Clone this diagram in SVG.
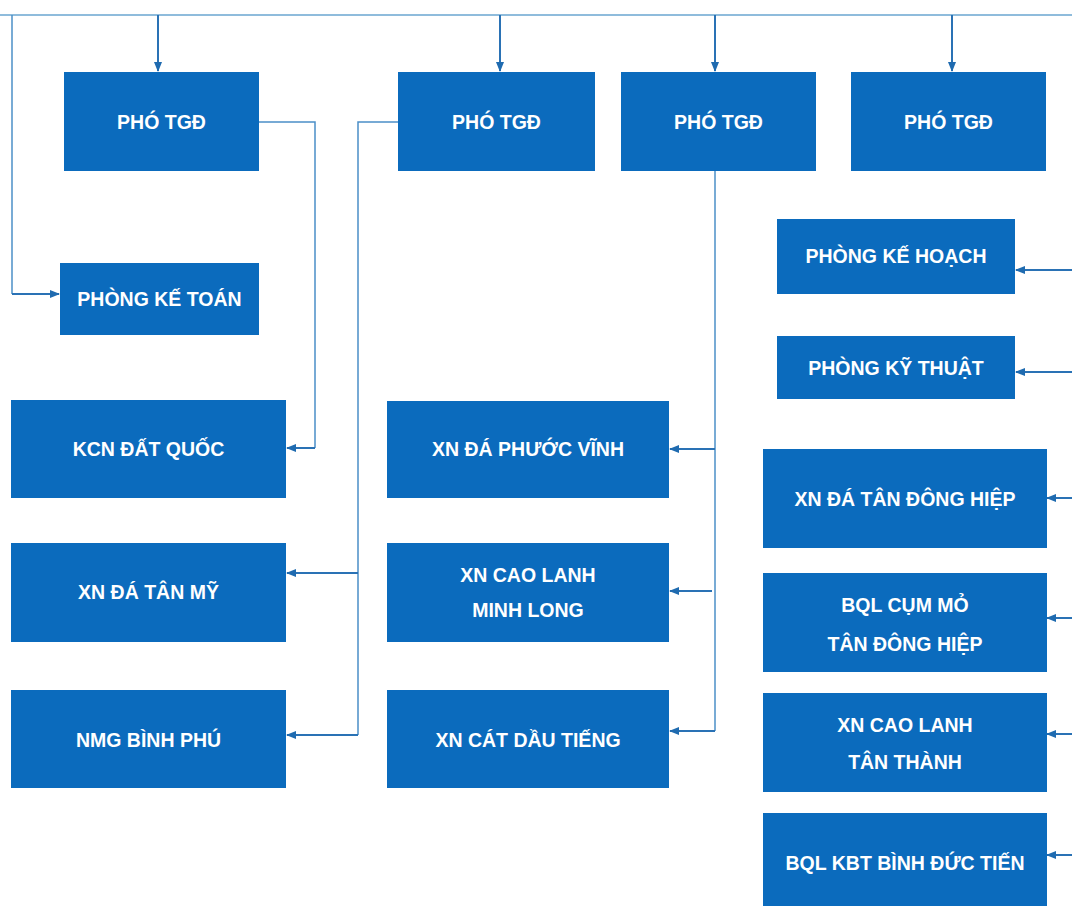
<svg xmlns="http://www.w3.org/2000/svg" width="1072" height="906" viewBox="0 0 1072 906">
<style>
.box{fill:#0b6bbd}
.t{font-family:"Liberation Sans",Arial,sans-serif;font-weight:bold;font-size:19.5px;fill:#ffffff;text-anchor:middle}
.ln{fill:none;stroke:#4b8fc7;stroke-width:1.5}
.top{fill:none;stroke:#8fbcdc;stroke-width:2}
.ar{fill:none;stroke:#2a72b5;stroke-width:2;marker-end:url(#ah)}
</style>
<defs>
<marker id="ah" viewBox="0 0 10 10" refX="9" refY="5" markerWidth="10" markerHeight="10" markerUnits="userSpaceOnUse" orient="auto">
<path d="M0,1 L10,5 L0,9 Z" fill="#1f6bb0"/>
</marker>
</defs>
<rect width="1072" height="906" fill="#ffffff"/>
<g id="connectors">
<path class="top" d="M0,15 H1072"/>
<path class="ln" d="M12,15 V294"/>
<path class="ar" d="M12,294 H59"/>
<path class="ar" d="M158,15 V71"/>
<path class="ar" d="M500,15 V71"/>
<path class="ar" d="M715,15 V71"/>
<path class="ar" d="M952,15 V71"/>
<path class="ln" d="M259,122 H315 V448"/>
<path class="ar" d="M315,448 H287"/>
<path class="ln" d="M398,122 H358 V735"/>
<path class="ar" d="M358,573 H287"/>
<path class="ar" d="M358,735 H287"/>
<path class="ln" d="M715,171 V731"/>
<path class="ar" d="M715,449 H670"/>
<path class="ar" d="M712,591 H670"/>
<path class="ar" d="M715,731 H670"/>
<path class="ar" d="M1072,270 H1016"/>
<path class="ar" d="M1072,372 H1016"/>
<path class="ar" d="M1072,498 H1047"/>
<path class="ar" d="M1072,618 H1047"/>
<path class="ar" d="M1072,734 H1047"/>
<path class="ar" d="M1072,855 H1047"/>
</g>
<g id="pho1"><rect class="box" x="64" y="72" width="195" height="99"/><text class="t" x="161.5" y="129">PHÓ TGĐ</text></g>
<g id="pho2"><rect class="box" x="398" y="72" width="197" height="99"/><text class="t" x="496.5" y="129">PHÓ TGĐ</text></g>
<g id="pho3"><rect class="box" x="621" y="72" width="195" height="99"/><text class="t" x="718.5" y="129">PHÓ TGĐ</text></g>
<g id="pho4"><rect class="box" x="851" y="72" width="195" height="99"/><text class="t" x="948.5" y="129">PHÓ TGĐ</text></g>
<g id="phong-ke-toan"><rect class="box" x="60" y="263" width="199" height="72"/><text class="t" x="159.5" y="306">PHÒNG KẾ TOÁN</text></g>
<g id="kcn-dat-quoc"><rect class="box" x="11" y="400" width="275" height="98"/><text class="t" x="148.5" y="456">KCN ĐẤT QUỐC</text></g>
<g id="xn-da-tan-my"><rect class="box" x="11" y="543" width="275" height="99"/><text class="t" x="148.5" y="599">XN ĐÁ TÂN MỸ</text></g>
<g id="nmg-binh-phu"><rect class="box" x="11" y="690" width="275" height="98"/><text class="t" x="148.5" y="747">NMG BÌNH PHÚ</text></g>
<g id="xn-da-phuoc-vinh"><rect class="box" x="387" y="401" width="282" height="97"/><text class="t" x="528" y="456">XN ĐÁ PHƯỚC VĨNH</text></g>
<g id="xn-cao-lanh-minh-long"><rect class="box" x="387" y="543" width="282" height="99"/><text class="t" x="528" y="582">XN CAO LANH</text><text class="t" x="528" y="617">MINH LONG</text></g>
<g id="xn-cat-dau-tieng"><rect class="box" x="387" y="690" width="282" height="98"/><text class="t" x="528" y="747">XN CÁT DẦU TIẾNG</text></g>
<g id="phong-ke-hoach"><rect class="box" x="777" y="219" width="238" height="75"/><text class="t" x="896" y="263">PHÒNG KẾ HOẠCH</text></g>
<g id="phong-ky-thuat"><rect class="box" x="777" y="336" width="238" height="63"/><text class="t" x="896" y="375">PHÒNG KỸ THUẬT</text></g>
<g id="xn-da-tan-dong-hiep"><rect class="box" x="763" y="449" width="284" height="99"/><text class="t" x="905" y="506">XN ĐÁ TÂN ĐÔNG HIỆP</text></g>
<g id="bql-cum-mo"><rect class="box" x="763" y="573" width="284" height="99"/><text class="t" x="905" y="612">BQL CỤM MỎ</text><text class="t" x="905" y="651">TÂN ĐÔNG HIỆP</text></g>
<g id="xn-cao-lanh-tan-thanh"><rect class="box" x="763" y="693" width="284" height="99"/><text class="t" x="905" y="732">XN CAO LANH</text><text class="t" x="905" y="769">TÂN THÀNH</text></g>
<g id="bql-kbt"><rect class="box" x="763" y="813" width="284" height="100"/><text class="t" x="905" y="870">BQL KBT BÌNH ĐỨC TIẾN</text></g>
</svg>
